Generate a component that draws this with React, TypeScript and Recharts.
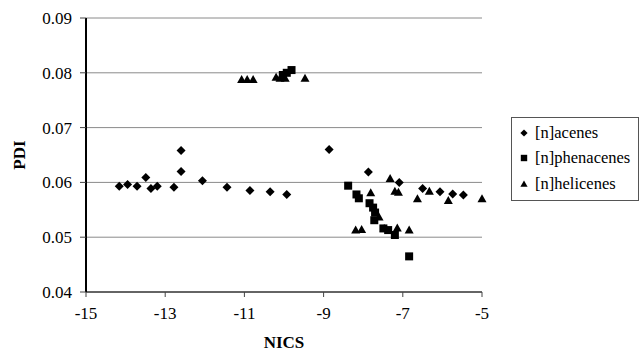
import {
  ScatterChart, Scatter, XAxis, YAxis, CartesianGrid, Label,
} from 'recharts'

const FONT = 'Liberation Serif, Times New Roman, serif'

// NICS (x) / PDI (y) per series
const acenesX = [-14.16, -13.95, -13.71, -13.49, -13.36, -13.2, -12.78, -12.6, -12.6, -12.06, -11.44, -10.86, -10.35, -9.93, -8.86, -7.87, -7.09, -6.5, -6.06, -5.74, -5.47]
const acenesY = [0.0593, 0.0596, 0.0593, 0.0609, 0.0589, 0.0593, 0.0591, 0.0658, 0.062, 0.0603, 0.0591, 0.0585, 0.0583, 0.0578, 0.066, 0.0619, 0.06, 0.0589, 0.0583, 0.0579, 0.0577]

const phenX = [-10.03, -9.93, -9.81, -8.38, -8.17, -8.11, -7.84, -7.75, -7.7, -7.72, -7.49, -7.37, -7.2, -6.84]
const phenY = [0.0796, 0.08, 0.0805, 0.0594, 0.0578, 0.0571, 0.0562, 0.0554, 0.0545, 0.0531, 0.0516, 0.0513, 0.0504, 0.0465]

const helX = [-11.07, -10.93, -10.78, -10.2, -10.1, -9.97, -9.47, -8.19, -8.04, -7.81, -7.6, -7.47, -7.32, -7.2, -7.11, -7.14, -6.84, -6.63, -6.33, -5.85, -5.0]
const helY = [0.0788, 0.0788, 0.0788, 0.0792, 0.079, 0.079, 0.079, 0.0513, 0.0514, 0.0581, 0.0537, 0.0516, 0.0607, 0.0584, 0.0582, 0.0517, 0.0513, 0.057, 0.0584, 0.0567, 0.057]

const xTicks = [-15, -13, -11, -9, -7, -5]
const yTicks = [0.04, 0.05, 0.06, 0.07, 0.08, 0.09]

const zip = (xs: number[], ys: number[]) => xs.map((x, i) => ({ x, y: ys[i] }))
const acenes = zip(acenesX, acenesY)
const phenacenes = zip(phenX, phenY)
const helicenes = zip(helX, helY)

const Diamond = ({ cx, cy }: { cx?: number; cy?: number }) =>
  cx == null || cy == null ? null : (
    <path d={`M${cx},${cy - 4.5}L${cx + 4.5},${cy}L${cx},${cy + 4.5}L${cx - 4.5},${cy}Z`} fill="#000" />
  )
const Square = ({ cx, cy }: { cx?: number; cy?: number }) =>
  cx == null || cy == null ? null : <rect x={cx - 4} y={cy - 4} width={8} height={8} fill="#000" />
const Triangle = ({ cx, cy }: { cx?: number; cy?: number }) =>
  cx == null || cy == null ? null : (
    <path d={`M${cx},${cy - 4.5}L${cx + 4.5},${cy + 3.5}L${cx - 4.5},${cy + 3.5}Z`} fill="#000" />
  )

const legendItems = [
  { name: '[n]acenes', Icon: Diamond },
  { name: '[n]phenacenes', Icon: Square },
  { name: '[n]helicenes', Icon: Triangle },
]

// legend drawn as a plain box so it doesn't eat into the plot width
function BoxLegend() {
  return (
    <div style={{
      position: 'absolute', left: 511, top: 117, width: 126, height: 80,
      border: '1px solid #555', background: '#fff', paddingTop: 2,
      fontFamily: FONT, fontSize: 16.5, color: '#000',
    }}>
      {legendItems.map(({ name, Icon }) => (
        <div key={name} style={{ display: 'flex', alignItems: 'center', height: 25.5 }}>
          <svg width={22} height={12} style={{ marginLeft: 1 }}>
            <g transform="translate(11,6) scale(0.8)"><Icon cx={0} cy={0} /></g>
          </svg>
          <span style={{ whiteSpace: 'nowrap' }}>{name}</span>
        </div>
      ))}
    </div>
  )
}

export default function App() {
  const tick = { fill: '#000', fontSize: 17, fontFamily: FONT }
  const title = { fontFamily: FONT, fontSize: 17, fontWeight: 'bold', fill: '#000' }
  return (
    <div style={{ position: 'absolute', left: 0, top: 0, width: 639, height: 362, background: '#fff', fontFamily: FONT }}>
      <ScatterChart width={639} height={362} margin={{ top: 18, right: 157, left: 26, bottom: 10 }}>
        <CartesianGrid vertical={false} stroke="#8a8a8a" />
        <XAxis type="number" dataKey="x" domain={[-15, -5]} ticks={xTicks} height={60}
          tick={tick} tickLine={{ stroke: '#444' }} axisLine={{ stroke: '#444', strokeWidth: 1.5 }}
          tickSize={5} tickMargin={10}>
          <Label value="NICS" position="insideBottom" offset={4} style={title} />
        </XAxis>
        <XAxis xAxisId="top" orientation="top" type="number" domain={[-15, -5]} height={0}
          tick={false} tickLine={false} axisLine={{ stroke: '#222', strokeWidth: 1.5 }} />
        <YAxis type="number" dataKey="y" domain={[0.04, 0.09]} ticks={yTicks} width={60}
          tickFormatter={(v: number) => v.toFixed(2)}
          tick={tick} tickLine={{ stroke: '#444' }} axisLine={{ stroke: '#000', strokeWidth: 2 }}
          tickSize={6} tickMargin={8}>
          <Label content={({ viewBox }: any) => (
            <text x={viewBox.x - 7} y={viewBox.y + viewBox.height / 2} transform={`rotate(-90 ${viewBox.x - 7} ${viewBox.y + viewBox.height / 2})`}
              textAnchor="middle" dominantBaseline="central" style={title}>PDI</text>
          )} />
        </YAxis>
        <YAxis yAxisId="right" orientation="right" type="number" domain={[0.04, 0.09]} width={0}
          tick={false} tickLine={false} axisLine={{ stroke: '#000', strokeWidth: 2 }} />
        <Scatter name="[n]acenes" data={acenes} shape={<Diamond />} isAnimationActive={false} />
        <Scatter name="[n]phenacenes" data={phenacenes} shape={<Square />} isAnimationActive={false} />
        <Scatter name="[n]helicenes" data={helicenes} shape={<Triangle />} isAnimationActive={false} />
      </ScatterChart>
      <BoxLegend />
    </div>
  )
}
